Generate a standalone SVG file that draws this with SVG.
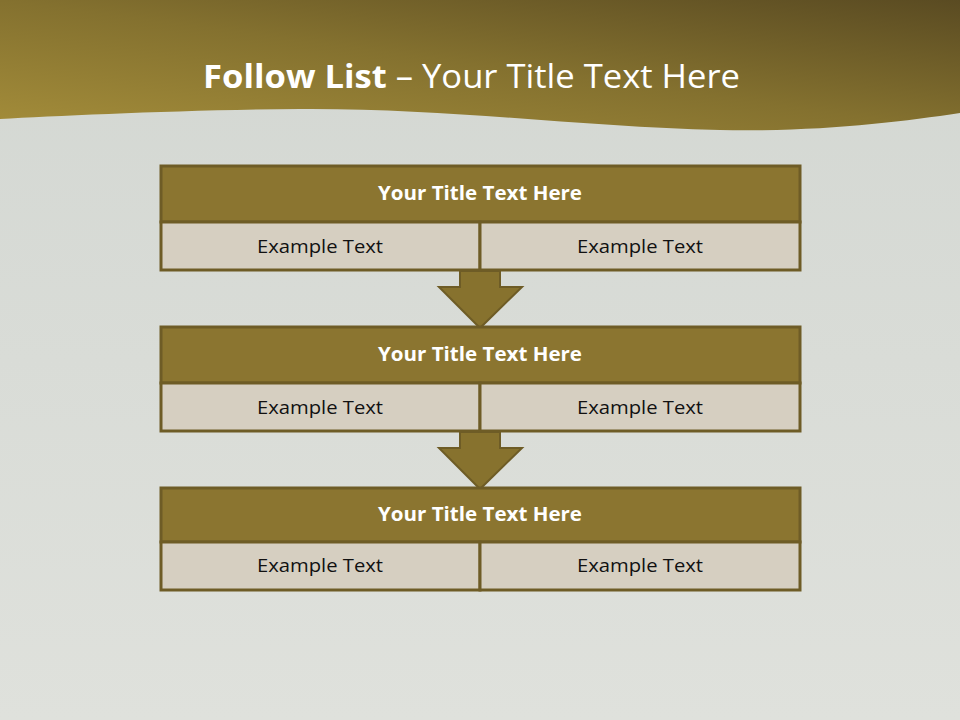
<svg xmlns="http://www.w3.org/2000/svg" width="960" height="720" viewBox="0 0 960 720">
<defs>
<linearGradient id="hdr" x1="0" y1="1" x2="1" y2="0">
<stop offset="0" stop-color="#a48d3a"/>
<stop offset="0.5" stop-color="#84712f"/>
<stop offset="1" stop-color="#5a4b22"/>
</linearGradient>
<linearGradient id="bg" x1="0" y1="0" x2="0" y2="1">
<stop offset="0" stop-color="#d3d7d2"/>
<stop offset="1" stop-color="#dfe1dc"/>
</linearGradient>
<style>
.ttl{fill:#8b7530;stroke:#6e5c26;stroke-width:3}
.cell{fill:#d6cfc1;stroke:#6e5c26;stroke-width:3}
.arrow{fill:#87722e;stroke:#6e5c26;stroke-width:2}
.th{font-family:"Open Sans","DejaVu Sans",sans-serif;font-weight:bold;font-size:19px;fill:#ffffff;text-anchor:middle}
.ex{font-family:"Open Sans","DejaVu Sans",sans-serif;font-size:19px;fill:#111111;text-anchor:middle}
</style>
</defs>
<rect x="0" y="0" width="960" height="720" fill="url(#bg)"/>
<path d="M0,0 H960 V113 C900,122 820,132 720,130 C580,127 450,108 300,109 C180,110 60,116 0,119 Z" fill="url(#hdr)"/>
<text x="203" y="88" font-family="'Open Sans','DejaVu Sans',sans-serif" font-size="32" fill="#ffffff" textLength="537" lengthAdjust="spacingAndGlyphs"><tspan font-weight="bold">Follow List </tspan> – Your Title Text Here</text>

<g id="connectors">
<path class="arrow" d="M460,271 H500 V287 H522 L480,328 L439,287 H460 Z"/>
<path class="arrow" d="M460,432 H500 V448 H522 L480,489 L439,448 H460 Z"/>
</g>

<g id="block1">
<rect class="ttl" x="161" y="166" width="639" height="56"/>
<rect class="cell" x="161" y="222" width="319" height="48"/>
<rect class="cell" x="480" y="222" width="320" height="48"/>
<text class="th" x="480" y="200" textLength="204" lengthAdjust="spacingAndGlyphs">Your Title Text Here</text>
<text class="ex" x="320" y="253" textLength="126" lengthAdjust="spacingAndGlyphs">Example Text</text>
<text class="ex" x="640" y="253" textLength="126" lengthAdjust="spacingAndGlyphs">Example Text</text>
</g>
<g id="block2">
<rect class="ttl" x="161" y="327" width="639" height="56"/>
<rect class="cell" x="161" y="383" width="319" height="48"/>
<rect class="cell" x="480" y="383" width="320" height="48"/>
<text class="th" x="480" y="361" textLength="204" lengthAdjust="spacingAndGlyphs">Your Title Text Here</text>
<text class="ex" x="320" y="414" textLength="126" lengthAdjust="spacingAndGlyphs">Example Text</text>
<text class="ex" x="640" y="414" textLength="126" lengthAdjust="spacingAndGlyphs">Example Text</text>
</g>
<g id="block3">
<rect class="ttl" x="161" y="488" width="639" height="54"/>
<rect class="cell" x="161" y="542" width="319" height="48"/>
<rect class="cell" x="480" y="542" width="320" height="48"/>
<text class="th" x="480" y="521" textLength="204" lengthAdjust="spacingAndGlyphs">Your Title Text Here</text>
<text class="ex" x="320" y="572" textLength="126" lengthAdjust="spacingAndGlyphs">Example Text</text>
<text class="ex" x="640" y="572" textLength="126" lengthAdjust="spacingAndGlyphs">Example Text</text>
</g>
</svg>
